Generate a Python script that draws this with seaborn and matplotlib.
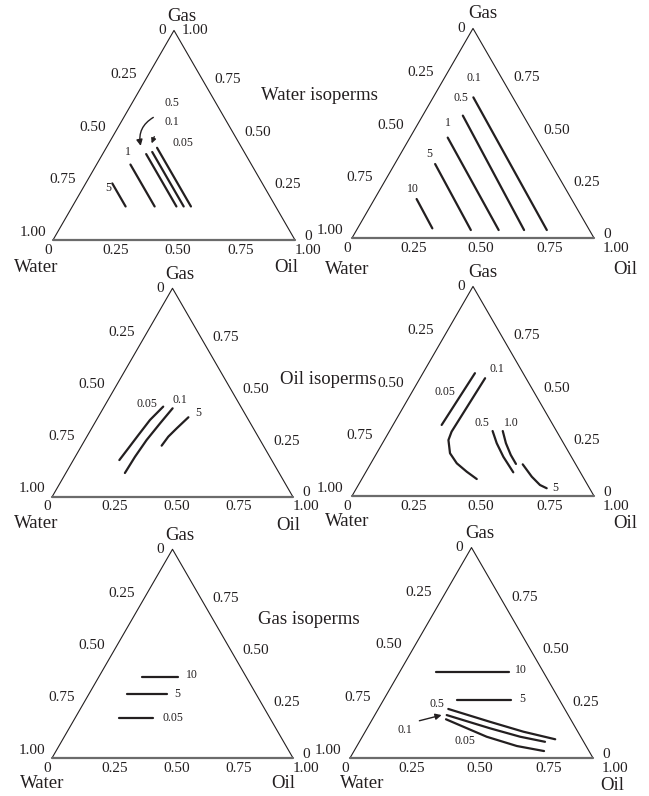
import matplotlib

matplotlib.use("Agg")
import matplotlib.pyplot as plt
import numpy as np
import pandas as pd
import seaborn as sns

# isoperm curves as (water, gas) saturations; oil = 1 - water - gas
water_left_tags = ["5", "1", "0.5", "0.1", "0.05"]
water_left_w = [[0.62, 0.62], [0.50, 0.50], [0.41, 0.41], [0.38, 0.38], [0.35, 0.35]]
water_left_g = [[0.27, 0.16], [0.36, 0.16], [0.41, 0.16], [0.42, 0.16], [0.44, 0.16]]

water_right_tags = ["10", "5", "1", "0.5", "0.1"]
water_right_w = [[0.64, 0.645], [0.48, 0.49], [0.365, 0.375], [0.25, 0.27], [0.163, 0.176]]
water_right_g = [[0.186, 0.046], [0.353, 0.038], [0.479, 0.038], [0.584, 0.038], [0.671, 0.038]]

oil_left_tags = ["0.05", "0.1", "5"]
oil_left_w = [[0.322, 0.409, 0.493, 0.567, 0.632],
              [0.287, 0.375, 0.471, 0.559, 0.640],
              [0.243, 0.318, 0.373, 0.422]]
oil_left_g = [[0.433, 0.369, 0.297, 0.233, 0.177],
              [0.425, 0.353, 0.273, 0.193, 0.115],
              [0.382, 0.329, 0.289, 0.246]]

oil_right_tags = ["0.05", "0.1", "0.5", "1.0", "5"]
oil_right_w = [[0.199, 0.329, 0.460],
               [0.169, 0.435, 0.468, 0.493, 0.489, 0.468, 0.444],
               [0.264, 0.276, 0.281, 0.277],
               [0.222, 0.238, 0.246, 0.246],
               [0.219, 0.211, 0.197, 0.177]]
oil_right_g = [[0.586, 0.463, 0.339],
               [0.562, 0.307, 0.267, 0.204, 0.156, 0.116, 0.081],
               [0.310, 0.252, 0.187, 0.113],
               [0.310, 0.252, 0.196, 0.153],
               [0.151, 0.092, 0.0525, 0.037]]

gas_left_tags = ["10", "5", "0.05"]
gas_left_w = [[0.434, 0.282], [0.538, 0.369], [0.626, 0.485]]
gas_left_g = [[0.387, 0.387], [0.305, 0.305], [0.190, 0.190]]

gas_right_tags = ["10", "5", "0.5", "0.1", "0.05"]
gas_right_w = [[0.443, 0.142], [0.420, 0.201],
               [0.479, 0.338, 0.224, 0.111],
               [0.500, 0.353, 0.249, 0.159],
               [0.513, 0.387, 0.285, 0.185]]
gas_right_g = [[0.407, 0.407], [0.276, 0.276],
               [0.233, 0.172, 0.125, 0.089],
               [0.204, 0.141, 0.101, 0.077],
               [0.184, 0.101, 0.057, 0.033]]

edge_ticks = ["0", "0.25", "0.50", "0.75", "1.00"]
edge_vals = [0.0, 0.25, 0.50, 0.75, 1.0]
titles = ["Water isoperms", "Oil isoperms", "Gas isoperms"]

W, H = 649, 796
SQ = np.sqrt(3) / 2
INK = "#231f20"


def to_xy(w, g):
    w, g = np.asarray(w, float), np.asarray(g, float)
    o = 1 - w - g
    return o + g / 2, g * SQ


def curves_frame(tags, ws, gs):
    rows = []
    for tag, w, g in zip(tags, ws, gs):
        x, y = to_xy(w, g)
        for i in range(len(x)):
            rows.append({"curve": tag, "order": i, "x": x[i], "y": y[i]})
    return pd.DataFrame(rows)


# layout: triangle pixel position (left, base, side), tag label spots (w, g),
# axis name offsets in px (dx, dy down), column
panels = [
    dict(L=53, B=240, s=242, col=0, tags=water_left_tags, w=water_left_w, g=water_left_g,
         spots=[(0.648, 0.247), (0.478, 0.421), (0.184, 0.652), (0.228, 0.564), (0.231, 0.461)],
         names=[(8, -14), (-17, 28), (-9, 28)], apex_top=True),
    dict(L=352, B=238, s=242, col=1, tags=water_right_tags, w=water_right_w, g=water_right_g,
         spots=[(0.630, 0.234), (0.481, 0.399), (0.331, 0.548), (0.217, 0.667), (0.113, 0.765)],
         names=[(10, -15), (-5, 32), (31, 32)], apex_top=False),
    dict(L=52, B=497, s=241, col=0, tags=oil_left_tags, w=oil_left_w, g=oil_left_g,
         spots=[(0.385, 0.444), (0.236, 0.465), (0.192, 0.401)],
         names=[(7, -14), (-16, 27), (-5, 29)], apex_top=False),
    dict(L=352, B=496, s=242, col=1, tags=oil_right_tags, w=oil_right_w, g=oil_right_g,
         spots=[(0.367, 0.498), (0.099, 0.605), (0.290, 0.347), (0.168, 0.350), (0.143, 0.037)],
         names=[(10, -14), (-5, 26), (31, 27)], apex_top=False),
    dict(L=52, B=758, s=241, col=0, tags=gas_left_tags, w=gas_left_w, g=gas_left_g,
         spots=[(0.219, 0.398), (0.325, 0.307), (0.404, 0.190)],
         names=[(7, -14), (-10, 26), (-10, 26)], apex_top=False),
    dict(L=350, B=758, s=243, col=1, tags=gas_right_tags, w=gas_right_w, g=gas_right_g,
         spots=[(0.087, 0.418), (0.151, 0.279), (0.516, 0.255), (0.707, 0.133), (0.486, 0.082)],
         names=[(8, -14), (12, 26), (19, 27)], apex_top=False),
]
bottom_dx = [[-5, 2, 4, 6, 13], [-5, 1, 8, 16, 22]]
left_dx = [-7, -9]

sns.set_theme(style="white")
plt.rcParams["font.family"] = ["Liberation Serif", "DejaVu Serif"]

fig = plt.figure(figsize=(W / 100, H / 100), dpi=100)
fig.patch.set_facecolor("white")

axes = []
for p in panels:
    ax = fig.add_axes([p["L"] / W, 1 - p["B"] / H, p["s"] / W, p["s"] * SQ / H])
    ax.set_xlim(0, 1)
    ax.set_ylim(0, SQ)
    ax.set_axis_off()
    axes.append(ax)

    # triangle frame
    ax.plot([0, 0.5, 1], [0, SQ, 0], color=INK, lw=0.8, clip_on=False)
    ax.plot([0, 1], [0, 0], color="#6b6b6b", lw=1.6, clip_on=False)

    df = curves_frame(p["tags"], p["w"], p["g"])
    sns.lineplot(data=df, x="x", y="y", units="curve", estimator=None, sort=False,
                 color=INK, lw=1.6, legend=False, ax=ax)

    for tag, (tw, tg) in zip(p["tags"], p["spots"]):
        tx, ty = to_xy(tw, tg)
        ax.text(tx, ty, tag, fontsize=8.5, color=INK, ha="center", va="center")

    tick_kw = dict(xycoords="data", textcoords="offset pixels", fontsize=11,
                   color=INK, annotation_clip=False)
    # water scale on left edge (0 at apex)
    for lab, v in zip(edge_ticks, edge_vals):
        pt = to_xy(v, 1 - v)
        if v == 0:
            ax.annotate(lab, pt, xytext=(-12, 0), ha="center", va="center", **tick_kw)
        else:
            ax.annotate(lab, pt, xytext=(left_dx[p["col"]], 8), ha="right", va="center", **tick_kw)
    # gas scale on right edge (0 at oil corner)
    for lab, v in zip(edge_ticks, edge_vals):
        pt = to_xy(0, v)
        if v == 1.0:
            if p["apex_top"]:
                ax.annotate(lab, pt, xytext=(8, 0), ha="left", va="center", **tick_kw)
        elif v == 0:
            ax.annotate(lab, pt, xytext=(9, 4), ha="left", va="center", **tick_kw)
        else:
            ax.annotate(lab, pt, xytext=(10, 3), ha="left", va="center", **tick_kw)
    # oil scale on base
    for lab, v, dx in zip(edge_ticks, edge_vals, bottom_dx[p["col"]]):
        ax.annotate(lab, (v, 0), xytext=(dx, -10), ha="center", va="center", **tick_kw)

    name_kw = dict(xycoords="data", textcoords="offset pixels", fontsize=13.5,
                   color=INK, ha="center", va="center", annotation_clip=False)
    for lab, pt, (dx, dy) in zip(["Gas", "Water", "Oil"], [(0.5, SQ), (0, 0), (1, 0)], p["names"]):
        ax.annotate(lab, pt, xytext=(dx, -dy), **name_kw)

arrow_kw = dict(arrowstyle="-|>", color=INK, lw=1.0, shrinkA=0, shrinkB=0, mutation_scale=9)
axes[0].annotate("", xy=to_xy(0.413, 0.449), xytext=to_xy(0.293, 0.585),
                 arrowprops=dict(connectionstyle="arc3,rad=0.35", **arrow_kw))
axes[0].annotate("", xy=to_xy(0.362, 0.461), xytext=to_xy(0.335, 0.493),
                 arrowprops=dict(arrow_kw, mutation_scale=7))
axes[5].annotate("", xy=to_xy(0.521, 0.204), xytext=to_xy(0.626, 0.177),
                 arrowprops=dict(arrow_kw))

for lab, (px, py) in zip(titles, [(319, 95), (328, 380), (309, 619)]):
    fig.text(px / W, 1 - py / H, lab, fontsize=13.5, color=INK, ha="center", va="center")

fig.savefig("out.png", dpi=100, facecolor="white")
